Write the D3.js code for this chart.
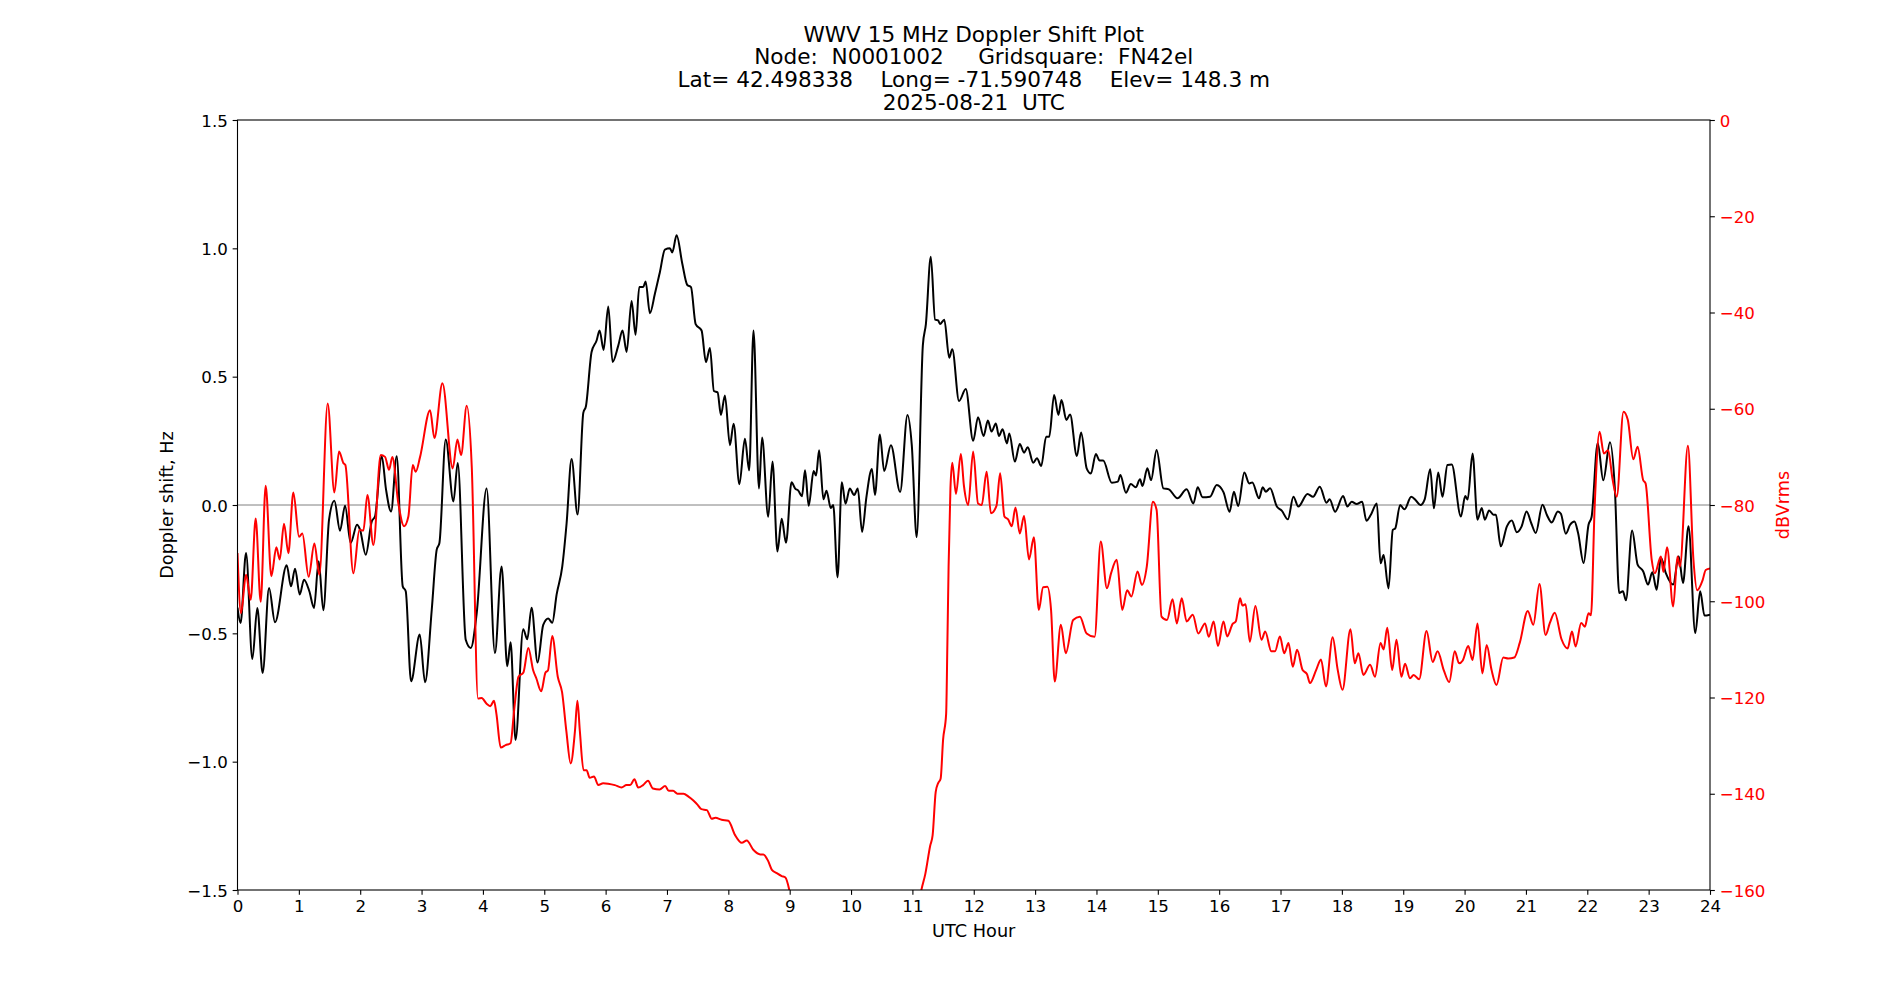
<!DOCTYPE html>
<html>
<head>
<meta charset="utf-8">
<script src="https://cdn.jsdelivr.net/npm/d3@7"></script>
<style>
  body { margin: 0; background: #fff; }
  svg { display: block; font-family: "DejaVu Sans", sans-serif; }
  .title-line { white-space: pre; }
</style>
</head>
<body>
<div id="chart"></div>
<script>
// title block
let titleLines = [
    "WWV 15 MHz Doppler Shift Plot",
    "Node:  N0001002     Gridsquare:  FN42el",
    "Lat= 42.498338    Long= -71.590748    Elev= 148.3 m",
    "2025-08-21  UTC"
];

let hourTicks = [0, 1, 2, 3, 4, 5, 6, 7, 8, 9, 10, 11, 12, 13, 14, 15, 16, 17, 18, 19, 20, 21, 22, 23, 24];
let dopplerTicks = [-1.5, -1.0, -0.5, 0.0, 0.5, 1.0, 1.5];
let dbTicks = [0, -20, -40, -60, -80, -100, -120, -140, -160];

// [UTC hour, Doppler shift Hz]
let dopplerTrace = [
    [0.0,-0.40],[0.05,-0.46],[0.139,-0.187],[0.242,-0.600],[0.323,-0.401],[0.41,-0.655],[0.514,-0.323],[0.611,-0.457],
    [0.802,-0.235],[0.872,-0.317],[0.938,-0.248],[1.014,-0.349],[1.084,-0.291],[1.171,-0.336],[1.247,-0.401],[1.323,-0.219],
    [1.399,-0.410],[1.492,-0.057],[1.579,0.017],[1.671,-0.100],[1.753,-0.003],[1.845,-0.148],[1.948,-0.077],[1.997,-0.096],
    [2.090,-0.194],[2.188,-0.064],[2.242,-0.044],[2.351,0.190],[2.421,0.060],[2.503,-0.025],[2.595,0.190],[2.693,-0.317],
    [2.742,-0.336],[2.829,-0.687],[2.970,-0.505],[3.057,-0.691],[3.166,-0.408],[3.247,-0.174],[3.291,-0.148],[3.394,0.255],
    [3.519,0.014],[3.590,0.164],[3.720,-0.525],[3.802,-0.557],[3.899,-0.421],[4.06,0.064],[4.196,-0.577],[4.304,-0.240],
    [4.397,-0.628],[4.451,-0.535],[4.532,-0.915],[4.657,-0.484],[4.723,-0.523],[4.793,-0.400],[4.891,-0.614],[4.983,-0.467],
    [5.065,-0.442],[5.130,-0.459],[5.201,-0.349],[5.293,-0.240],[5.364,-0.071],[5.445,0.179],[5.543,-0.037],[5.636,0.359],
    [5.679,0.385],[5.771,0.596],[5.853,0.641],[5.902,0.680],[5.967,0.604],[6.043,0.773],[6.113,0.557],[6.206,0.621],
    [6.276,0.680],[6.342,0.596],[6.423,0.795],[6.488,0.663],[6.548,0.849],[6.613,0.849],[6.651,0.871],[6.722,0.747],
    [6.803,0.823],[6.885,0.908],[6.966,0.995],[7.048,1.000],[7.086,0.984],[7.157,1.051],[7.249,0.941],[7.331,0.857],
    [7.391,0.849],[7.467,0.705],[7.564,0.680],[7.635,0.557],[7.700,0.612],[7.765,0.444],[7.825,0.439],[7.879,0.351],
    [7.944,0.427],[8.026,0.233],[8.086,0.317],[8.18,0.081],[8.27,0.258],[8.34,0.135],[8.41,0.680],[8.50,0.064],
    [8.55,0.263],[8.65,-0.046],[8.72,0.169],[8.80,-0.181],[8.87,-0.054],[8.94,-0.147],[9.03,0.089],[9.09,0.064],
    [9.14,0.056],[9.20,0.034],[9.25,0.135],[9.31,-0.003],[9.39,0.132],[9.43,0.115],[9.48,0.213],[9.55,0.022],
    [9.60,0.056],[9.67,-0.012],[9.71,0.0],[9.78,-0.282],[9.85,0.089],[9.91,0.005],[9.98,0.064],[10.05,0.039],
    [10.11,0.064],[10.18,-0.105],[10.25,0.030],[10.34,0.140],[10.39,0.039],[10.47,0.275],[10.54,0.132],[10.65,0.233],
    [10.80,0.051],[10.92,0.351],[10.99,0.233],[11.07,-0.125],[11.17,0.621],[11.22,0.705],[11.30,0.967],[11.37,0.722],
    [11.42,0.719],[11.45,0.705],[11.52,0.722],[11.60,0.574],[11.65,0.607],[11.76,0.405],[11.87,0.452],[11.99,0.250],
    [12.07,0.342],[12.16,0.269],[12.23,0.329],[12.29,0.286],[12.36,0.318],[12.41,0.269],[12.47,0.295],[12.54,0.240],
    [12.58,0.279],[12.67,0.169],[12.75,0.238],[12.82,0.204],[12.88,0.225],[12.97,0.165],[13.03,0.182],[13.10,0.152],
    [13.18,0.266],[13.23,0.266],[13.31,0.429],[13.38,0.351],[13.43,0.409],[13.51,0.331],[13.57,0.353],[13.68,0.191],
    [13.75,0.282],[13.84,0.143],[13.91,0.123],[13.99,0.199],[14.05,0.173],[14.11,0.173],[14.25,0.087],[14.35,0.091],
    [14.39,0.117],[14.48,0.048],[14.56,0.082],[14.64,0.069],[14.71,0.100],[14.75,0.074],[14.83,0.143],[14.89,0.097],
    [14.98,0.214],[15.09,0.065],[15.18,0.061],[15.32,0.026],[15.47,0.061],[15.58,0.006],[15.65,0.069],[15.73,0.030],
    [15.85,0.032],[15.96,0.078],[16.07,0.05],[16.17,-0.026],[16.24,0.052],[16.31,-0.004],[16.41,0.127],[16.49,0.084],
    [16.54,0.088],[16.65,0.026],[16.71,0.069],[16.76,0.052],[16.83,0.065],[16.94,-0.006],[17.02,-0.022],[17.12,-0.056],
    [17.21,0.032],[17.29,-0.006],[17.44,0.043],[17.53,0.032],[17.64,0.071],[17.75,0.009],[17.80,0.022],[17.89,-0.026],
    [18.02,0.035],[18.09,-0.006],[18.16,0.013],[18.24,0.004],[18.33,0.013],[18.40,-0.061],[18.47,-0.039],[18.57,0.006],
    [18.63,-0.227],[18.68,-0.195],[18.76,-0.325],[18.83,-0.097],[18.87,-0.091],[18.95,0.0],[19.02,-0.017],[19.13,0.032],
    [19.21,0.017],[19.28,0.0],[19.35,0.022],[19.44,0.139],[19.50,-0.013],[19.57,0.127],[19.64,0.032],[19.72,0.156],
    [19.79,0.158],[19.94,-0.045],[20.01,0.035],[20.05,0.021],[20.13,0.201],[20.21,-0.057],[20.28,-0.012],[20.33,-0.057],
    [20.40,-0.021],[20.47,-0.038],[20.51,-0.038],[20.59,-0.161],[20.69,-0.083],[20.77,-0.060],[20.85,-0.106],[20.93,-0.083],
    [21.01,-0.025],[21.09,-0.073],[21.16,-0.109],[21.27,0.001],[21.34,-0.038],[21.42,-0.068],[21.52,-0.025],[21.57,-0.034],
    [21.65,-0.112],[21.72,-0.077],[21.79,-0.064],[21.85,-0.109],[21.94,-0.226],[22.02,-0.077],[22.07,-0.047],[22.17,0.242],
    [22.26,0.096],[22.37,0.244],[22.45,0.060],[22.52,-0.343],[22.58,-0.336],[22.63,-0.371],[22.73,-0.099],[22.82,-0.232],
    [22.91,-0.258],[22.99,-0.310],[23.06,-0.262],[23.13,-0.330],[23.20,-0.206],[23.28,-0.265],[23.40,-0.310],[23.49,-0.200],
    [23.56,-0.304],[23.65,-0.083],[23.76,-0.499],[23.84,-0.336],[23.91,-0.431],[24.0,-0.427]
];

// [UTC hour, signal level dBVrms]; below -160 is off the axis
let signalTrace = [
    [0.0,-90],[0.057,-102.5],[0.139,-94.5],[0.215,-99.7],[0.296,-82.8],[0.378,-100.1],[0.459,-76.0],[0.552,-94.8],
    [0.633,-88.8],[0.688,-91.3],[0.758,-83.9],[0.829,-90.0],[0.910,-77.4],[1.003,-86.6],[1.057,-85.9],[1.160,-94.9],
    [1.253,-88.0],[1.334,-94.5],[1.470,-58.9],[1.579,-77.4],[1.655,-68.9],[1.726,-71.3],[1.758,-71.7],[1.889,-94.2],
    [1.986,-85.2],[2.052,-85.3],[2.117,-77.9],[2.215,-88.3],[2.334,-69.6],[2.405,-70.0],[2.470,-72.7],[2.524,-70.0],
    [2.622,-79.7],[2.715,-84.4],[2.785,-82.4],[2.856,-71.7],[2.905,-73.1],[2.976,-70.0],[3.139,-60.3],[3.209,-66.1],
    [3.340,-54.7],[3.508,-72.4],[3.584,-66.4],[3.644,-69.6],[3.736,-59.4],[3.818,-72.0],[3.92,-120.2],[3.98,-120.1],
    [4.06,-121.3],[4.12,-121.8],[4.18,-120.7],[4.22,-123.4],[4.29,-130.4],[4.37,-129.9],[4.45,-129.5],[4.51,-122.5],
    [4.58,-115.7],[4.66,-114.8],[4.74,-109.7],[4.82,-114.4],[4.87,-116.0],[4.95,-118.7],[5.02,-114.8],[5.06,-114.4],
    [5.13,-107.2],[5.22,-115.7],[5.29,-118.9],[5.36,-127.0],[5.43,-133.7],[5.50,-127.0],[5.54,-120.7],[5.58,-127.0],
    [5.64,-135.1],[5.69,-135.1],[5.74,-136.7],[5.81,-136.4],[5.88,-138.2],[5.96,-137.8],[6.04,-137.9],[6.15,-138.2],
    [6.26,-138.7],[6.34,-138.2],[6.40,-138.2],[6.47,-137.0],[6.53,-138.7],[6.61,-138.2],[6.69,-137.3],[6.77,-138.9],
    [6.88,-139.1],[6.97,-138.4],[7.03,-139.4],[7.10,-139.4],[7.17,-140.0],[7.27,-140.0],[7.35,-140.6],[7.43,-141.4],
    [7.50,-142.3],[7.56,-143.2],[7.65,-143.4],[7.73,-145.2],[7.79,-145.0],[7.89,-145.4],[8.00,-145.6],[8.11,-148.6],
    [8.22,-150.2],[8.30,-149.7],[8.41,-151.7],[8.52,-152.6],[8.57,-152.6],[8.65,-154.0],[8.71,-155.8],[8.79,-156.5],
    [8.87,-157.1],[8.93,-157.4],[8.99,-159.8],[9.03,-162.5],[9.2,-168],[9.6,-172],[10.0,-175],[10.5,-174],
    [10.9,-168],[11.1,-163],[11.15,-159.8],[11.21,-156.7],[11.29,-150.8],[11.33,-148.6],[11.38,-139.6],[11.42,-137.8],
    [11.46,-136.9],[11.50,-128.8],[11.55,-123.4],[11.57,-109.0],[11.59,-92.8],[11.62,-76.6],[11.65,-71.2],[11.71,-77.7],
    [11.79,-69.4],[11.84,-76.0],[11.91,-80.0],[11.99,-68.9],[12.07,-79.7],[12.13,-80.0],[12.21,-73.1],[12.28,-81.7],
    [12.37,-80.2],[12.43,-73.4],[12.50,-82.4],[12.56,-83.0],[12.62,-84.4],[12.68,-80.5],[12.75,-85.9],[12.82,-82.3],
    [12.90,-91.3],[12.98,-86.7],[13.06,-101.8],[13.13,-97.1],[13.20,-97.0],[13.26,-101.8],[13.32,-116.7],[13.42,-104.9],
    [13.50,-110.8],[13.62,-103.9],[13.73,-103.2],[13.84,-106.7],[13.97,-107.4],[14.07,-87.6],[14.17,-97.3],[14.24,-94.1],
    [14.33,-91.4],[14.42,-101.8],[14.50,-97.7],[14.57,-99.0],[14.67,-93.8],[14.74,-96.6],[14.82,-92.8],[14.92,-79.3],
    [14.98,-81.0],[15.06,-103.2],[15.15,-103.9],[15.24,-99.6],[15.31,-104.6],[15.39,-99.4],[15.47,-104.2],[15.57,-102.8],
    [15.66,-106.7],[15.77,-104.6],[15.83,-107.4],[15.91,-104.2],[15.98,-109.3],[16.07,-104.2],[16.13,-107.3],[16.22,-104.7],
    [16.27,-104.2],[16.34,-99.4],[16.38,-100.9],[16.43,-100.6],[16.50,-108.4],[16.59,-101.0],[16.69,-108.0],[16.75,-106.3],
    [16.85,-110.4],[16.91,-110.4],[16.99,-107.3],[17.06,-110.8],[17.13,-108.7],[17.20,-113.6],[17.27,-110.1],[17.36,-114.3],
    [17.43,-115.1],[17.48,-117.0],[17.58,-114.3],[17.66,-112.1],[17.74,-117.7],[17.85,-107.5],[17.93,-114.1],[18.01,-118.4],
    [18.14,-105.8],[18.21,-112.9],[18.27,-110.8],[18.35,-115.3],[18.46,-113.2],[18.54,-115.7],[18.63,-108.7],[18.68,-110.0],
    [18.74,-105.5],[18.82,-114.3],[18.89,-108.0],[18.97,-115.7],[19.03,-113.0],[19.11,-116.0],[19.17,-115.3],[19.26,-116.2],
    [19.38,-106.2],[19.48,-112.6],[19.56,-110.4],[19.66,-114.3],[19.75,-116.8],[19.84,-110.4],[19.91,-112.9],[19.97,-112.3],
    [20.06,-109.3],[20.13,-112.2],[20.21,-104.6],[20.29,-115.0],[20.36,-109.1],[20.44,-114.3],[20.52,-117.4],[20.63,-111.7],
    [20.71,-111.9],[20.81,-111.7],[20.90,-108.6],[21.03,-102.0],[21.12,-104.9],[21.22,-96.4],[21.32,-107.0],[21.39,-104.5],
    [21.47,-102.4],[21.58,-107.9],[21.68,-109.8],[21.75,-106.3],[21.81,-109.4],[21.90,-104.5],[21.96,-105.3],[22.02,-102.5],
    [22.06,-102.9],[22.12,-80.4],[22.20,-64.8],[22.27,-69.3],[22.34,-68.6],[22.41,-74.5],[22.48,-78.3],[22.59,-60.6],
    [22.66,-62.3],[22.75,-70.5],[22.82,-67.9],[22.91,-74.8],[22.95,-75.5],[23.05,-91.4],[23.10,-94.2],[23.20,-90.7],
    [23.24,-93.9],[23.30,-88.8],[23.40,-101.1],[23.47,-90.7],[23.51,-92.8],[23.64,-67.7],[23.73,-91.4],[23.79,-97.7],
    [23.88,-95.6],[23.93,-93.5],[24.0,-93.2]
];

let totalWidth = 1900,
    totalHeight = 1000,
    mLeft = 237.5,
    mRight = 190,
    mTop = 120,
    mBottom = 110;

let width = totalWidth - mLeft - mRight,
    height = totalHeight - mTop - mBottom;

let tickFont = 16.67,
    labelFont = 17.7,
    titleFont = 21.6,
    tickLen = 4.86;

let fmtMinus = s => s.replace("-", "\u2212");

let svg = d3.select("#chart").append("svg")
    .attr("width", totalWidth)
    .attr("height", totalHeight);

svg.append("rect")
    .attr("width", totalWidth)
    .attr("height", totalHeight)
    .attr("fill", "#fff");

let xScale = d3.scaleLinear().domain([0, 24]).range([0, width]),
    yScale = d3.scaleLinear().domain([-1.5, 1.5]).range([height, 0]),
    dbScale = d3.scaleLinear().domain([-160, 0]).range([height, 0]);

let g = svg.append("g")
    .attr("transform", "translate(" + mLeft + "," + mTop + ")");

g.append("clipPath").attr("id", "plotClip")
  .append("rect")
    .attr("width", width)
    .attr("height", height);

// zero reference
g.append("line")
    .attr("x1", 0).attr("x2", width)
    .attr("y1", yScale(0)).attr("y2", yScale(0))
    .attr("stroke", "#808080")
    .attr("stroke-width", 1);

let plot = g.append("g").attr("clip-path", "url(#plotClip)");

plot.append("path")
    .datum(dopplerTrace)
    .attr("fill", "none")
    .attr("stroke", "#000")
    .attr("stroke-width", 2)
    .attr("stroke-linejoin", "round")
    .attr("d", d3.line()
        .x(d => xScale(d[0]))
        .y(d => yScale(d[1]))
        .curve(d3.curveMonotoneX));

plot.append("path")
    .datum(signalTrace)
    .attr("fill", "none")
    .attr("stroke", "#ff0000")
    .attr("stroke-width", 2)
    .attr("stroke-linejoin", "round")
    .attr("d", d3.line()
        .x(d => xScale(d[0]))
        .y(d => dbScale(d[1]))
        .curve(d3.curveMonotoneX));

// frame
g.append("rect")
    .attr("width", width)
    .attr("height", height)
    .attr("fill", "none")
    .attr("stroke", "#000")
    .attr("stroke-width", 1.1);

let xAxis = d3.axisBottom(xScale)
    .tickValues(hourTicks)
    .tickFormat(d3.format("d"))
    .tickSize(tickLen).tickSizeOuter(0).tickPadding(4.86);

let yAxis = d3.axisLeft(yScale)
    .tickValues(dopplerTicks)
    .tickFormat(d => fmtMinus(d3.format(".1f")(d)))
    .tickSize(tickLen).tickSizeOuter(0).tickPadding(4.86);

let dbAxis = d3.axisRight(dbScale)
    .tickValues(dbTicks)
    .tickFormat(d => fmtMinus(d3.format("d")(d)))
    .tickSize(tickLen).tickSizeOuter(0).tickPadding(4.86);

function styleAxis(sel, color) {
    sel.select(".domain").remove();
    sel.selectAll(".tick line").attr("stroke", "#000").attr("stroke-width", 1.1);
    sel.selectAll(".tick text")
        .attr("fill", color)
        .style("font-family", "DejaVu Sans")
        .style("font-size", tickFont + "px");
}

g.append("g")
    .attr("transform", "translate(0," + height + ")")
    .call(xAxis)
    .call(s => styleAxis(s, "#000"))
    .selectAll(".tick text").attr("dy", "0.76em");

g.append("g")
    .call(yAxis)
    .call(s => styleAxis(s, "#000"))
    .selectAll(".tick text").attr("dy", "0.36em");

g.append("g")
    .attr("transform", "translate(" + width + ",0)")
    .call(dbAxis)
    .call(s => styleAxis(s, "#ff0000"))
    .selectAll(".tick text").attr("dy", "0.36em");

// axis labels
g.append("text")
    .attr("x", width / 2)
    .attr("y", 937 - mTop)
    .attr("text-anchor", "middle")
    .style("font-size", labelFont + "px")
    .text("UTC Hour");

g.append("text")
    .attr("transform", "translate(" + (167 - mLeft) + "," + height / 2 + ") rotate(-90)")
    .attr("text-anchor", "middle")
    .attr("dy", "0.36em")
    .style("font-size", labelFont + "px")
    .text("Doppler shift, Hz");

g.append("text")
    .attr("transform", "translate(" + (1783 - mLeft) + "," + height / 2 + ") rotate(-90)")
    .attr("text-anchor", "middle")
    .attr("dy", "0.36em")
    .attr("fill", "#ff0000")
    .style("font-size", labelFont + "px")
    .text("dBVrms");

// title, last line sits just above the frame
let lineStep = 22.8;
g.append("g").selectAll("text")
    .data(titleLines)
  .enter().append("text")
    .attr("class", "title-line")
    .attr("x", width / 2)
    .attr("y", (d, i) => 110 - mTop - (titleLines.length - 1 - i) * lineStep)
    .attr("text-anchor", "middle")
    .style("font-size", titleFont + "px")
    .text(d => d);
</script>
</body>
</html>
